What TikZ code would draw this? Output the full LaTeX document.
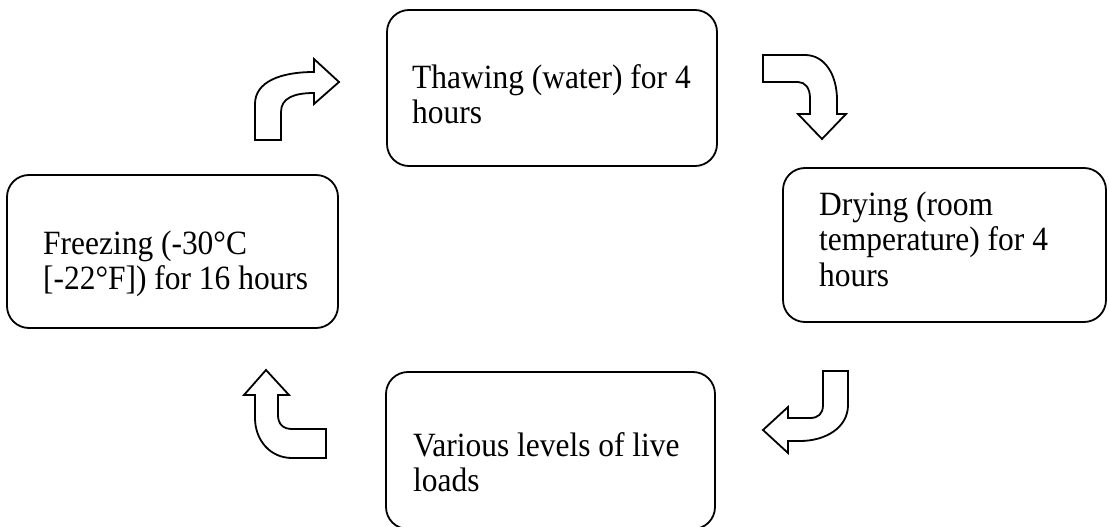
\documentclass[tikz,border=0pt]{standalone}
\usepackage{fontspec}
\setmainfont{Liberation Serif}[FakeStretch=0.925]
\begin{document}
\begin{tikzpicture}[x=1pt,y=-1pt,
  stage/.style={draw=black, line width=1.8pt, rounded corners=22pt},
  stagetext/.style={anchor=north west, inner sep=0pt, align=left,
    font=\fontsize{34}{35.5}\selectfont},
  bentarrow/.style={draw=black, line width=1.8pt, fill=white, line join=miter}]
\useasboundingbox (0,0) rectangle (1109,527);

% the four stages of the cycle (boxes)
\node[stage, minimum width=330pt, minimum height=156pt] (thaw)   at (552,88) {};
\node[stage, minimum width=323pt, minimum height=154pt] (dry)    at (944.5,245) {};
\node[stage, minimum width=329pt, minimum height=157pt] (load)   at (550.5,450.5) {};
\node[stage, minimum width=331pt, minimum height=153pt] (freeze) at (172.5,251.5) {};

% their texts; each starts with a 30pt strut, so the top sits 30pt above the first baseline
\node[stagetext] (thawtext) at (412,58)
  {\rule{0pt}{30pt}Thawing (water) for 4\\hours};
\node[stagetext] (drytext) at (819,185)
  {\rule{0pt}{30pt}Drying (room\\temperature) for 4\\hours};
\node[stagetext] (loadtext) at (413,426)
  {\rule{0pt}{30pt}Various levels of live\\loads};
\node[stagetext] (freezetext) at (43,224)
  {\rule{0pt}{30pt}Freezing (-30°C\\{}[-22°F]) for 16 hours};

% bent block arrows between the stages
% freezing -> thawing
\draw[bentarrow] (255,140) -- (255,104) .. controls (255,82) and (280,72) .. (314,72)
  -- (314,59) -- (339,82) -- (314,104) -- (314,93)
  .. controls (294,93) and (281,98) .. (281,112) -- (281,140) -- cycle;
% thawing -> drying
\draw[bentarrow] (763,55) -- (805,55) .. controls (825,55) and (837,75) .. (837,100)
  -- (837,114) -- (846,114) -- (822,139) -- (798,114) -- (810,114) -- (810,98)
  .. controls (810,88) and (805,82) .. (798,82) -- (763,82) -- cycle;
% drying -> live loads
\draw[bentarrow] (823,371) -- (848,371) -- (848,405) .. controls (848,428) and (825,441) .. (800,441)
  -- (788,441) -- (788,453) -- (763,430) -- (788,407) -- (788,418) -- (810,418)
  .. controls (818,418) and (823,414) .. (823,405) -- cycle;
% live loads -> freezing
\draw[bentarrow] (266,370) -- (289,395) -- (278,395) -- (278,415)
  .. controls (278,424) and (283,429) .. (292,429) -- (326,429) -- (326,458) -- (292,458)
  .. controls (270,458) and (255,440) .. (255,418) -- (255,395) -- (244,395) -- cycle;
\end{tikzpicture}
\end{document}
